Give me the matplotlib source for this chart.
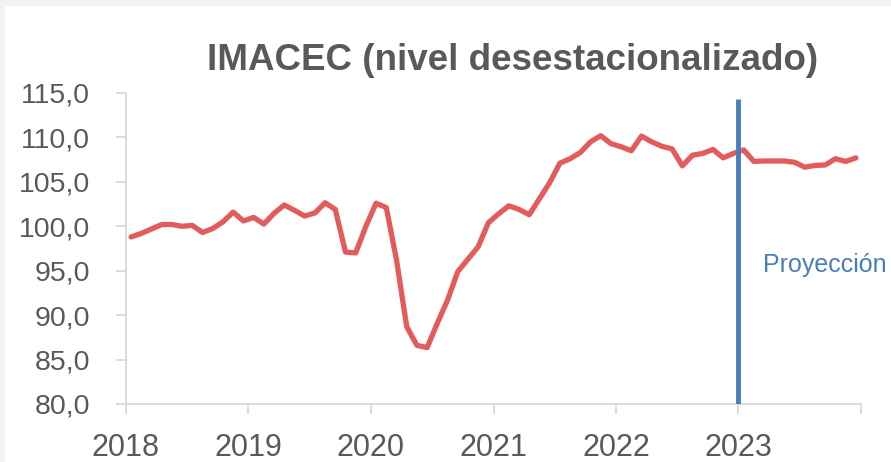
import matplotlib
matplotlib.use("Agg")
from matplotlib import pyplot as plt
from matplotlib.patches import Rectangle

# datos mensuales ene-2018 .. dic-2023
years = ["2018", "2019", "2020", "2021", "2022", "2023"]
imacec_2018 = [98.8, 99.2, 99.7, 100.2, 100.2, 100.0, 100.1, 99.3, 99.75, 100.5, 101.6, 100.6]
imacec_2019 = [101.0, 100.25, 101.45, 102.4, 101.8, 101.15, 101.5, 102.65, 101.9, 97.1, 97.0, 100.0]
imacec_2020 = [102.6, 102.1, 96.2, 88.7, 86.6, 86.35, 89.1, 91.7, 94.9, 96.3, 97.7, 100.4]
imacec_2021 = [101.4, 102.3, 101.9, 101.3, 103.1, 104.9, 107.1, 107.6, 108.3, 109.5, 110.2, 109.3]
imacec_2022 = [108.95, 108.5, 110.15, 109.5, 109.0, 108.7, 106.8, 108.0, 108.2, 108.65, 107.7, 108.2]
imacec_2023 = [108.6, 107.3, 107.35, 107.35, 107.35, 107.2, 106.65, 106.85, 106.9, 107.6, 107.3, 107.7]
projection_year = "2023"

values = imacec_2018 + imacec_2019 + imacec_2020 + imacec_2021 + imacec_2022 + imacec_2023
idx = list(range(len(values)))

plt.rcParams['font.family'] = ['Liberation Sans', 'DejaVu Sans']
grey_txt = '#595959'
axis_col = '#d9d9d9'

fig = plt.figure(figsize=(8.91, 4.62), dpi=100)
fig.patch.set_facecolor('#f2f2f2')
fig.add_artist(Rectangle((5 / 891, 0), 1, 1 - 6 / 462, transform=fig.transFigure,
                         facecolor='white', edgecolor='none', zorder=-1))

ax = fig.add_axes((126 / 891, 1 - 404 / 462, (861 - 126) / 891, (404 - 93) / 462))
ax.set_facecolor('none')

ax.plot(idx, values, color='#e35b5b', lw=3.8, solid_joinstyle='round', solid_capstyle='round', zorder=3)

# linea de proyeccion
x_proj = years.index(projection_year) * 12 - 0.5
ax.vlines(x_proj, 79.9, 114.3, color='#4a7ebb', lw=3.5, zorder=4)
ax.text(x_proj + 2.4, 95.6, "Proyección", color='#4a7ebb', fontsize=18, va='center', ha='left')

ax.set_xlim(-0.5, len(values) - 0.5)
ax.set_ylim(80, 115)
ax.set_xticks([i * 12 - 0.5 for i in range(len(years) + 1)])
ax.set_xticklabels(years + [""])
yt = [80 + 5 * i for i in range(8)]
ax.set_yticks(yt)
ax.set_yticklabels([f"{v:.1f}".replace(".", ",") for v in yt])

for s in ['top', 'right']:
    ax.spines[s].set_visible(False)
for s in ['left', 'bottom']:
    ax.spines[s].set_color(axis_col)
    ax.spines[s].set_linewidth(1.3)
ax.tick_params(axis='x', colors=axis_col, labelcolor=grey_txt, length=7, width=1.3, labelsize=22, pad=14)
ax.tick_params(axis='y', colors=axis_col, labelcolor=grey_txt, length=7, width=1.3, labelsize=20.5, pad=19)

fig.text(513 / 891, 1 - 70 / 462, "IMACEC (nivel desestacionalizado)", ha='center', va='baseline',
         fontsize=26.5, fontweight='bold', color=grey_txt)

fig.savefig("out.png", dpi=100)
